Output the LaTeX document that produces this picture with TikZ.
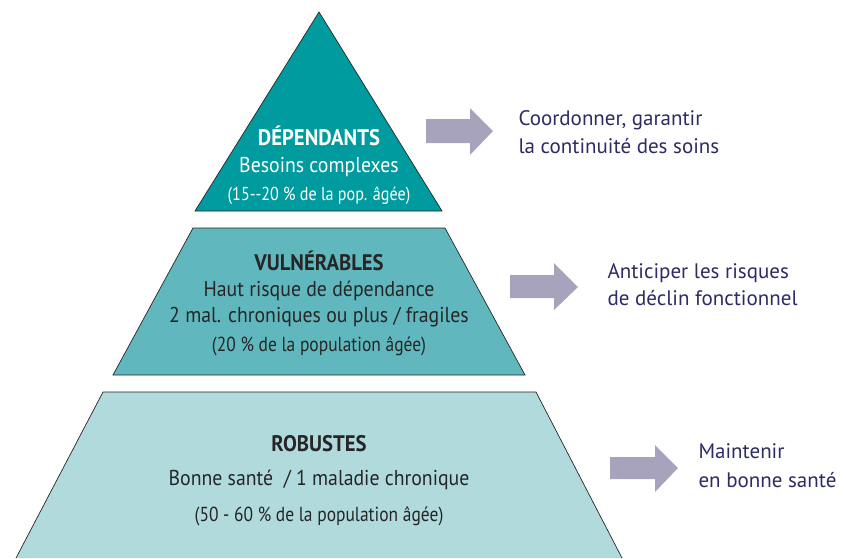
\documentclass[tikz,border=0pt]{standalone}
\usepackage{fontspec}
\setmainfont{PT Sans}
\newfontfamily\narrowfont[FakeStretch=0.92]{PT Sans}
\newfontfamily\sharefont[FakeStretch=0.86]{PT Sans}
\definecolor{topteal}{RGB}{0,155,158}
\definecolor{midteal}{RGB}{96,184,190}
\definecolor{lowteal}{RGB}{176,218,220}
\definecolor{arrowgray}{RGB}{168,163,189}
\definecolor{navy}{RGB}{45,42,100}
\begin{document}
\begin{tikzpicture}[x=1pt,y=-1pt,
        level/.style={draw=black!85, line width=0.7pt},
        title/.style={anchor=base, font=\fontsize{22.5}{22.5}\selectfont\bfseries\narrowfont},
        line/.style={anchor=base, font=\fontsize{21.5}{21.5}\selectfont\narrowfont},
        share/.style={anchor=base, font=\fontsize{20.3}{20.3}\selectfont\sharefont},
        goal/.style={anchor=base west, text=navy, font=\fontsize{21}{21}\selectfont}]
        \useasboundingbox (0,0) rectangle (846,558);
        % pyramide
        \draw[level, fill=topteal] (319,12) -- (442,211) -- (195,211) -- cycle;
        \draw[level, fill=midteal] (193,228) -- (445,228) -- (525,375) -- (113,375) -- cycle;
        \fill[lowteal] (16,558) -- (103,392) -- (536,392) -- (622,558) -- cycle;
        \draw[level] (16,558) -- (103,392) -- (536,392) -- (622,558);
        % textes des niveaux
        \node[title, text=white] (dep) at (319,145) {DÉPENDANTS};
        \node[line, text=white] (depA) at (319,172) {Besoins complexes};
        \node[share, text=white, font=\fontsize{18.7}{18.7}\selectfont\sharefont] (depB) at (319,200) {(15--20 \% de la pop. âgée)};
        \node[title, text=black!85] (vul) at (319,270) {VULNÉRABLES};
        \node[line, text=black!85] (vulA) at (319,296) {Haut risque de dépendance};
        \node[line, text=black!85] (vulB) at (319,322) {2 mal. chroniques ou plus / fragiles};
        \node[share, text=black!85] (vulC) at (319,351) {(20 \% de la population âgée)};
        \node[title, text=black!85] (rob) at (319,451) {ROBUSTES};
        \node[line, text=black!85] (robA) at (319,485) {Bonne santé~~/ 1 maladie chronique};
        \node[share, text=black!85] (robB) at (319,521) {(50 - 60 \% de la population âgée)};
        % fleches
        \fill[arrowgray] (426,119) -- ++(44,0) -- ++(0,-11) -- ++(23,23) -- ++(-23,24) -- ++(0,-12) -- ++(-44,0) -- cycle;
        \fill[arrowgray] (510,275) -- ++(44,0) -- ++(0,-12) -- ++(24,24) -- ++(-24,23) -- ++(0,-12) -- ++(-44,0) -- cycle;
        \fill[arrowgray] (610,457) -- ++(45,0) -- ++(0,-12) -- ++(23,23) -- ++(-23,24) -- ++(0,-13) -- ++(-45,0) -- cycle;
        % objectifs
        \node[goal] (coord) at (515,125) {Coordonner, garantir};
        \node[goal] (cont) at (515,153) {la continuité des soins};
        \node[goal] (anti) at (604,278) {Anticiper les risques};
        \node[goal] (decl) at (604,305) {de déclin fonctionnel};
        \node[goal] (main) at (695,458) {Maintenir};
        \node[goal] (sante) at (695,487) {en bonne santé};
\end{tikzpicture}
\end{document}
